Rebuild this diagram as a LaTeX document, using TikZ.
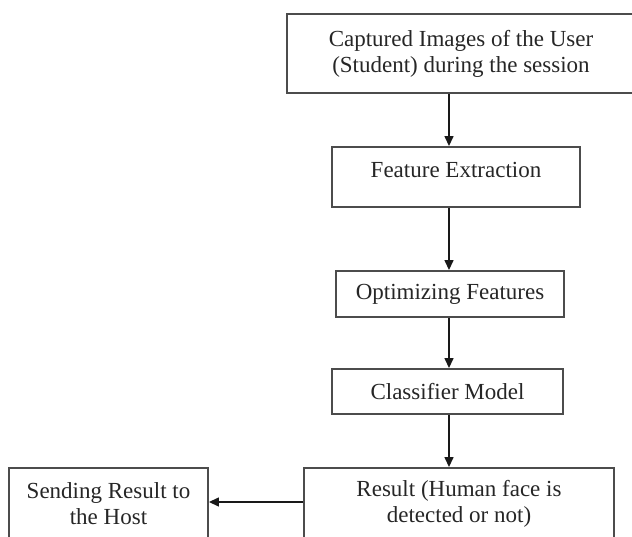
\documentclass[tikz,border=0pt]{standalone}
\usepackage{fontspec}
\setmainfont{Liberation Serif}
\usetikzlibrary{arrows.meta,calc}

\begin{document}
\begin{tikzpicture}[x=1pt,y=-1pt,>={Triangle[length=10pt,width=9pt]},
  font=\fontsize{23}{26}\selectfont,
  box/.style={draw=black!70,line width=1.9pt,text=black!85,align=center,inner sep=0pt},
  flow/.style={->,line width=1.4pt,black!90}]
\clip (0,0) rectangle (632,537);
\useasboundingbox (0,0) rectangle (632,537);
\node[box,minimum width=358pt,minimum height=79pt] (capture) at (466,53.5)
  {\hspace*{-10pt}Captured Images of the User\\\hspace*{-10pt}(Student) during the session};
\node[box,minimum width=248pt,minimum height=60pt,text depth=14pt] (feature) at (456,177) {Feature Extraction};
\node[box,minimum width=228pt,minimum height=46pt] (optim) at (450,294) {Optimizing Features};
\node[box,minimum width=231pt,minimum height=45pt] (classif) at (447.5,391.5) {Classifier Model};
\node[box,minimum width=310pt,minimum height=72pt] (result) at (459,504)
  {Result (Human face is\\detected or not)};
\node[box,minimum width=199pt,minimum height=72pt] (sending) at (108.5,504)
  {Sending Result to\\the Host};
\coordinate (spine) at (449,0);
\draw[flow] (capture.south -| spine) -- (feature.north -| spine);
\draw[flow] (feature.south -| spine) -- (optim.north -| spine);
\draw[flow] (optim.south -| spine) -- (classif.north -| spine);
\draw[flow] (classif.south -| spine) -- (result.north -| spine);
\draw[flow] ($(result.west)+(0,-2)$) -- ($(sending.east)+(0,-2)$);
\end{tikzpicture}
\end{document}
